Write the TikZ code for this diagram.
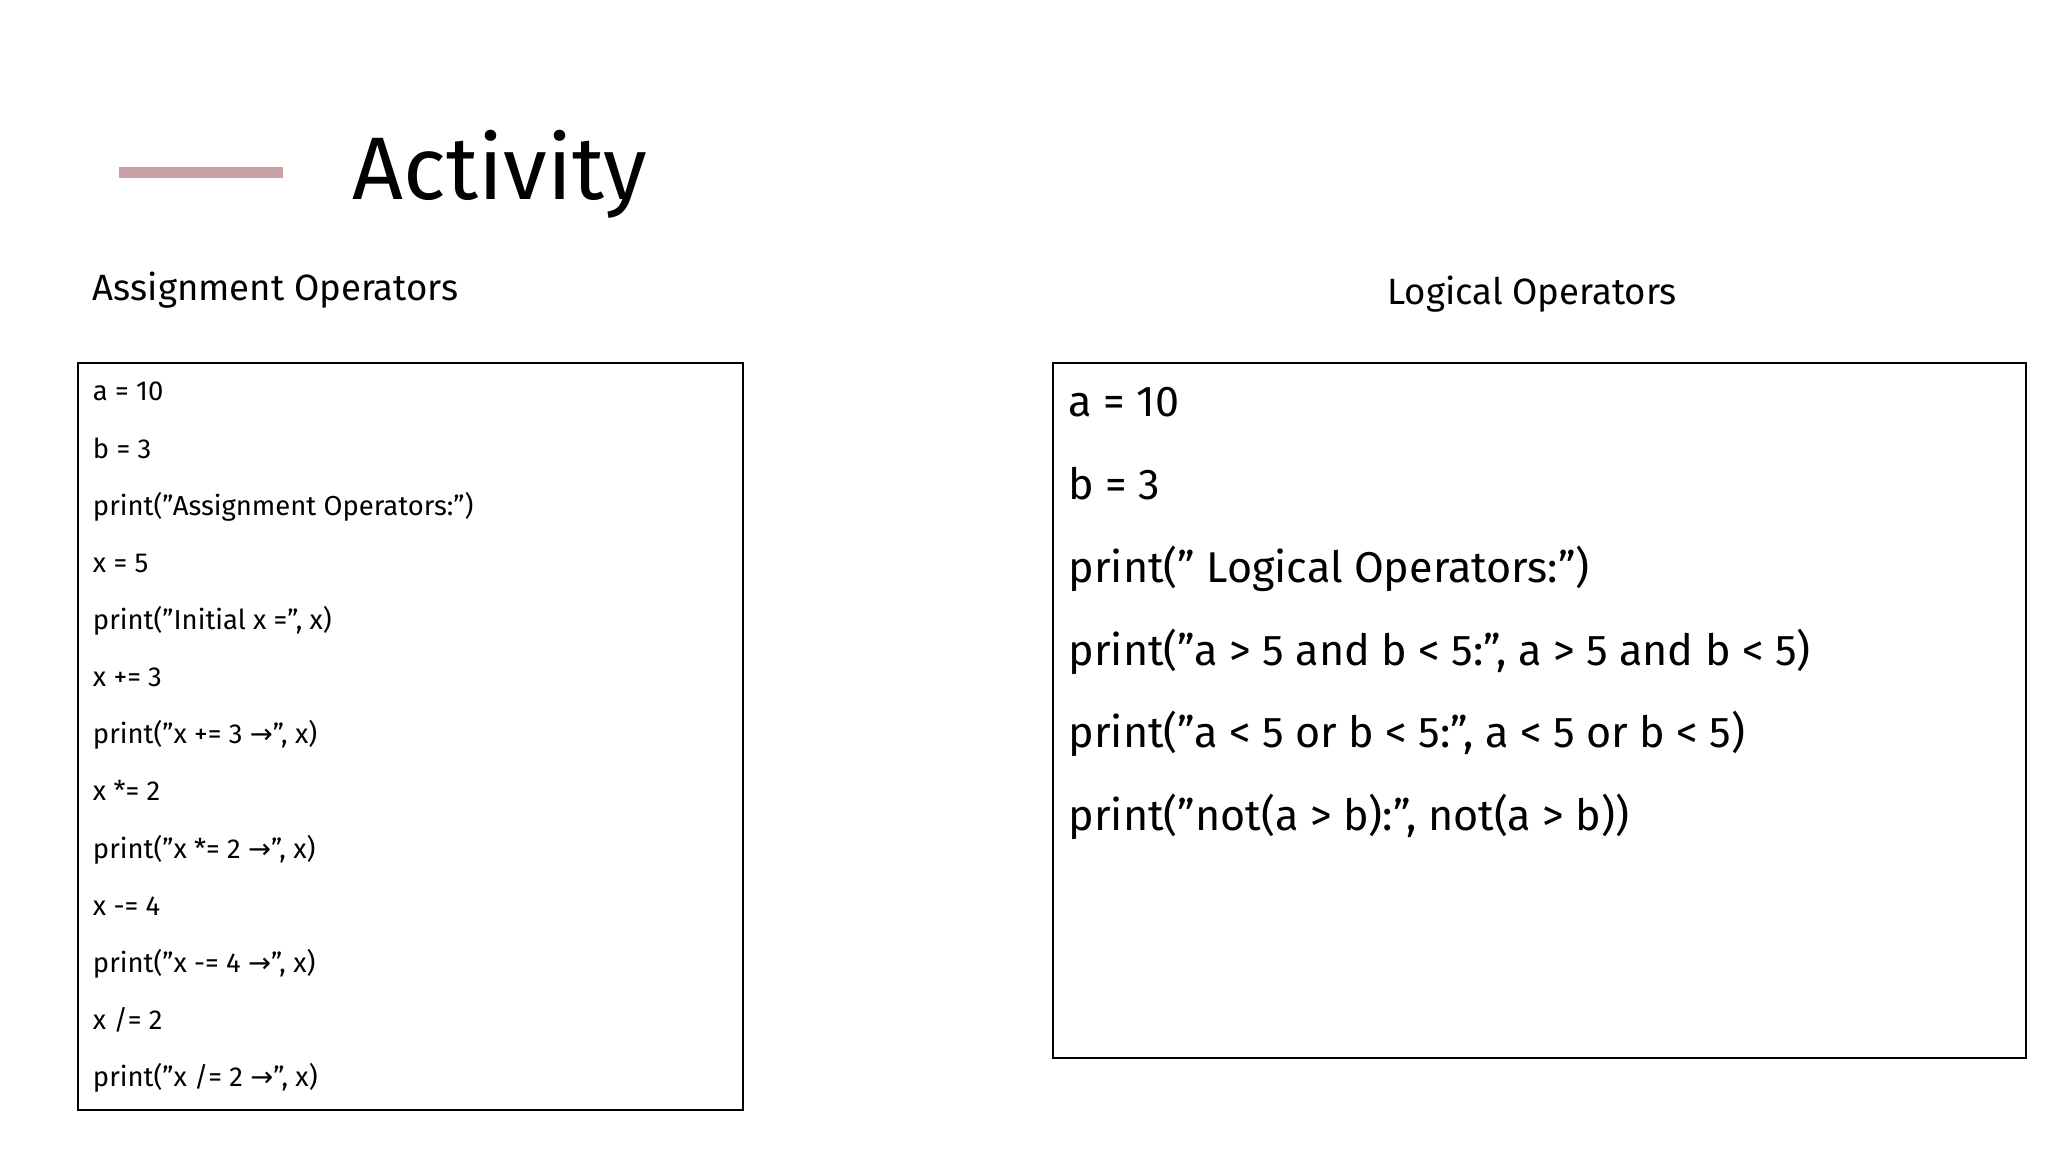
\documentclass[tikz,border=0pt]{standalone}
\usepackage{fontspec}
\setmainfont{Fira Sans}
\newfontfamily\arrowfont{DejaVu Sans}
\newcommand{\ar}{{\arrowfont →}}
\begin{document}
\begin{tikzpicture}[x=1pt,y=-1pt,
  codeL/.style={anchor=base west,inner sep=0pt,font=\fontsize{21}{24}\selectfont},
  codeR/.style={anchor=base west,inner sep=0pt,font=\fontsize{33}{38}\selectfont},
  head/.style={anchor=base west,inner sep=0pt,font=\fontsize{28}{32}\selectfont}]
\useasboundingbox (0,0) rectangle (1568,882);
\fill[fill={rgb,255:red,201;green,160;blue,166}] (91,128) rectangle (217,136);
\node[anchor=base west,inner sep=0pt,font=\fontsize{68}{72}\selectfont] (title) at (270,153) {Activity};
\node[head] (hl) at (71,230) {Assignment Operators};
\node[head,anchor=base] (hr) at (1173,233) {Logical Operators};
\draw[line width=1.5pt] (60,278) rectangle (569,850);
\draw[line width=1.5pt] (806,278) rectangle (1551,810);
\foreach \t [count=\i from 0] in {a = 10,b = 3,print("Assignment Operators:"),x = 5,{print("Initial x =", x)},x += 3,{print("x += 3 \ar", x)},x *= 2,{print("x *= 2 \ar", x)},x -= 4,{print("x -= 4 \ar", x)},x /= 2,{print("x /= 2 \ar", x)}}
  \node[codeL] (l\i) at (71,307+43.75*\i) {\t};
\foreach \t [count=\i from 0] in {a = 10,b = 3,print(" Logical Operators:"),{print("a > 5 and b < 5:", a > 5 and b < 5)},{print("a < 5 or b < 5:", a < 5 or b < 5)},{print("not(a > b):", not(a > b))}}
  \node[codeR] (r\i) at (818,319+63.4*\i) {\t};
\end{tikzpicture}
\end{document}
